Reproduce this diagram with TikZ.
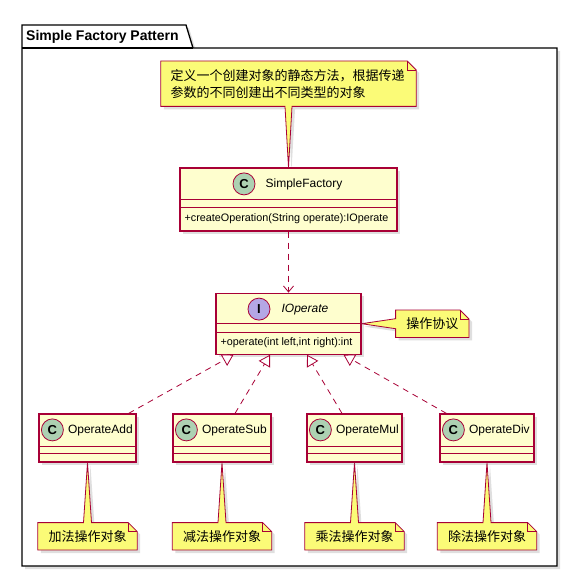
\documentclass[tikz,border=0pt]{standalone}
\usepackage{fontspec}
\setmainfont{Liberation Sans}
\newfontfamily\cjk{Noto Sans CJK SC}
\usepackage{xcolor}
\usepackage{tikz}
\usetikzlibrary{arrows.meta, positioning, backgrounds, calc, shadows}
\definecolor{umlred}{HTML}{A80036}
\definecolor{classbg}{HTML}{FEFECE}
\definecolor{notebg}{HTML}{FBFB77}
\definecolor{cbadge}{HTML}{ADD1B2}
\definecolor{ibadge}{HTML}{B4A7E5}

\begin{document}
\begin{tikzpicture}[x=1pt, y=-1pt,
  dropsh/.style={drop shadow={shadow xshift=3pt, shadow yshift=-3pt, opacity=0.25}},
  pkg/.style={draw=black, line width=1.3pt, fill=white, dropsh},
  cls/.style={draw=umlred, line width=1.2pt, fill=classbg, inner sep=0pt, dropsh},
  badge/.style={circle, draw=umlred, line width=0.8pt, minimum size=22pt, inner sep=0pt,
                font=\fontsize{13}{13}\selectfont\bfseries},
  cname/.style={font=\fontsize{12}{14}\selectfont, inner sep=0pt},
  member/.style={font=\fontsize{10.8}{13}\selectfont, inner sep=0pt, anchor=west},
  sep/.style={draw=umlred, line width=1.2pt},
  note/.style={font=\cjk\fontsize{13}{17}\selectfont, inner xsep=10.5pt, inner ysep=0pt,
               minimum height=27pt},
  notebox/.style={draw=umlred, line width=0.8pt, fill=notebg, dropsh},
  dep/.style={umlred, line width=0.8pt, dash pattern=on 6pt off 5pt,
              -{Straight Barb[length=6pt, width=10pt]}},
  impl/.style={umlred, line width=0.8pt, dash pattern=on 6pt off 5pt,
               -{Triangle[length=11pt, width=13pt, fill=white]}}
]
  \useasboundingbox (0,0) rectangle (577,577);

  \node[font=\fontsize{14}{16}\selectfont\bfseries, inner sep=0pt, anchor=west] (pkgtitle) at (26,37)
        {Simple Factory Pattern};

  % classes
  \node[cls, minimum width=217pt, minimum height=63pt] (sf) at (288.5,199.5) {};
  \node[badge, fill=cbadge] (sfb) at ($(sf.north)+(-44.5,16.5)$) {C};
  \node[cname, right=10pt of sfb] (sfn) {SimpleFactory};
  \draw[sep] ($(sf.north west)+(0,32)$) -- ($(sf.north east)+(0,32)$);
  \draw[sep] ($(sf.north west)+(0,40)$) -- ($(sf.north east)+(0,40)$);
  \node[member] (sfm) at ($(sf.north west)+(5,51.5)$) {+createOperation(String operate):IOperate};

  \node[cls, minimum width=145pt, minimum height=61pt, below=61pt of sf] (iop) {};
  \node[badge, fill=ibadge] (iopb) at ($(iop.north)+(-29.5,16.5)$) {I};
  \node[cname, right=11pt of iopb] (iopn) {\itshape IOperate};
  \draw[sep] ($(iop.north west)+(0,31)$) -- ($(iop.north east)+(0,31)$);
  \draw[sep] ($(iop.north west)+(0,40)$) -- ($(iop.north east)+(0,40)$);
  \node[member] (iopm) at ($(iop.north west)+(5,50.5)$) {+operate(int left,int right):int};

  \foreach \c/\lbl/\x/\w in {add/OperateAdd/87.5/97, sub/OperateSub/222/98,
                             mul/OperateMul/354.5/95, div/OperateDiv/487/94} {
    \node[cls, minimum width=\w pt, minimum height=48pt] (\c) at (\x,438) {};
    \node[badge, fill=cbadge] (\c b) at ($(\c.north west)+(14,16.5)$) {C};
    \node[cname, right=4pt of \c b] (\c n) {\lbl};
    \draw[sep] ($(\c.north west)+(0,33)$) -- ($(\c.north east)+(0,33)$);
    \draw[sep] ($(\c.north west)+(0,40)$) -- ($(\c.north east)+(0,40)$);
  }

  % notes
  \node[note, text width=236pt, inner xsep=9.5pt, align=left, minimum height=45pt, above=61pt of sf] (tn)
        {定义一个创建对象的静态方法，根据传递\\参数的不同创建出不同类型的对象};
  \node[note, right=34pt of iop] (pn) {操作协议};
  \node[note, below=60pt of add] (n1) {加法操作对象};
  \node[note, below=60pt of sub] (n2) {减法操作对象};
  \node[note, below=60pt of mul] (n3) {乘法操作对象};
  \node[note, below=60pt of div] (n4) {除法操作对象};

  \begin{scope}[on background layer]
    \fill[white] (0,0) rectangle (577,577);
    \draw[pkg] (22,566) -- (22,25) -- (186,25) -- (193,48) -- (557,48) -- (557,566) -- cycle;
    \draw[line width=1.3pt] (22,48) -- (193,48);

    \draw[notebox] (tn.south west) -- (tn.north west) -- ([xshift=-9pt]tn.north east)
      -- ([yshift=-9pt]tn.north east) -- (tn.south east)
      -- ($(tn.south -| sf.north)+(3.5,0)$) -- (sf.north) -- ($(tn.south -| sf.north)+(-3.5,0)$) -- cycle;
    \draw[umlred, line width=0.8pt] ([xshift=-9pt]tn.north east) |- ([yshift=-9pt]tn.north east);

    \draw[notebox] (pn.south west) -- ($(pn.west)+(0,5)$) -- (iop.east) -- ($(pn.west)+(0,-5)$)
      -- (pn.north west) -- ([xshift=-9pt]pn.north east) -- ([yshift=-9pt]pn.north east)
      -- (pn.south east) -- cycle;
    \draw[umlred, line width=0.8pt] ([xshift=-9pt]pn.north east) |- ([yshift=-9pt]pn.north east);

    \foreach \c/\n in {add/n1, sub/n2, mul/n3, div/n4} {
      \draw[notebox] (\n.south west) -- (\n.north west) -- ($(\n.north -| \c.south)+(-4,0)$)
        -- (\c.south) -- ($(\n.north -| \c.south)+(4,0)$) -- ([xshift=-9pt]\n.north east)
        -- ([yshift=-9pt]\n.north east) -- (\n.south east) -- cycle;
      \draw[umlred, line width=0.8pt] ([xshift=-9pt]\n.north east) |- ([yshift=-9pt]\n.north east);
    }
  \end{scope}

  % relations
  \draw[dep] (sf) -- (iop);
  \draw[impl] ($(add.north east)+(-8,0)$) -- ($(iop.south)+(-55,0)$);
  \draw[impl] ($(sub.north)+(13,0)$) -- ($(iop.south)+(-18.5,0)$);
  \draw[impl] ($(mul.north)+(-12.5,0)$) -- ($(iop.south)+(18.5,0)$);
  \draw[impl] ($(div.north west)+(7,0)$) -- ($(iop.south)+(55,0)$);
\end{tikzpicture}
\end{document}
